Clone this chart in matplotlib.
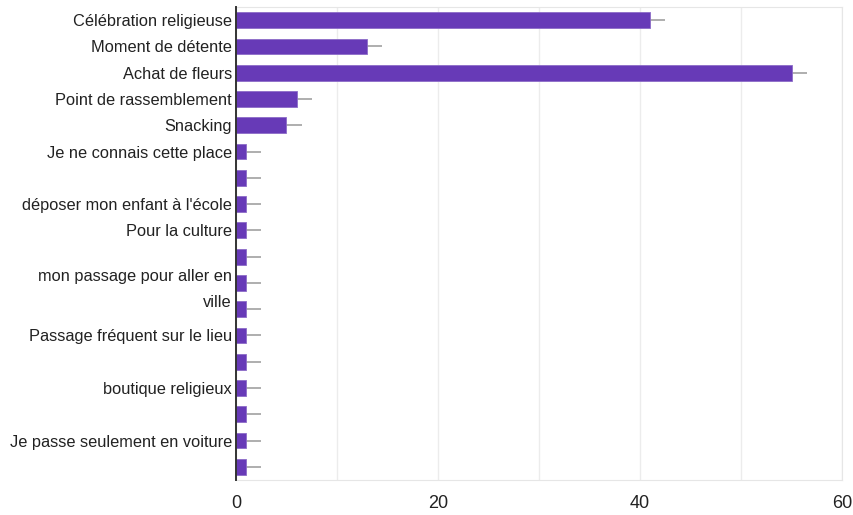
import matplotlib
matplotlib.use('Agg')
import matplotlib.pyplot as plt

# réponses et effectifs
labels = ["Célébration religieuse", "Moment de détente", "Achat de fleurs",
          "Point de rassemblement", "Snacking", "Je ne connais cette place", "",
          "déposer mon enfant à l'école", "Pour la culture", "",
          "mon passage pour aller en\nville", "", "Passage fréquent sur le lieu", "",
          "boutique religieux", "", "Je passe seulement en voiture", ""]
values = [41, 13, 55, 6, 5, 1, 1, 1, 1, 1, 1, 1, 1, 1, 1, 1, 1, 1]
whisker = [1.5] * len(values)

plt.rcParams['font.family'] = ['Liberation Sans', 'DejaVu Sans']

fig = plt.figure(figsize=(8.54, 5.15), dpi=100)
ax = fig.add_axes([236/854, 1-480/515, (842-236)/854, (480-7)/515])

pos = list(range(len(values)))
ax.barh(pos, values, height=0.6, color="#673ab7", edgecolor="#8c6bc8", linewidth=0.6, zorder=3)
ax.hlines(pos, values, [v + w for v, w in zip(values, whisker)], color="#a8a8a8", linewidth=1.3, zorder=2)

ax.set_xlim(0, 60)
ax.set_ylim(len(values) - 0.5, -0.5)
ax.set_xticks(range(0, 61, 10))
ax.set_xticklabels(["0", "", "20", "", "40", "", "60"])
ax.set_yticks(pos)
ax.set_yticklabels(labels)
ax.grid(axis="x", color="#ececec", linewidth=1, zorder=0)
ax.tick_params(axis="both", length=0, colors="#222222")
ax.tick_params(axis="y", pad=3, labelsize=11.8)
ax.tick_params(axis="x", pad=11, labelsize=13)
for lab in ax.get_yticklabels():
    lab.set_linespacing(1.85)

for s in ["top", "right", "bottom"]:
    ax.spines[s].set_color("#e6e6e6")
ax.spines["left"].set_color("#333333")
ax.spines["left"].set_linewidth(1.4)
ax.spines["left"].set_zorder(5)

fig.savefig("out.png", dpi=100)
plt.close()
